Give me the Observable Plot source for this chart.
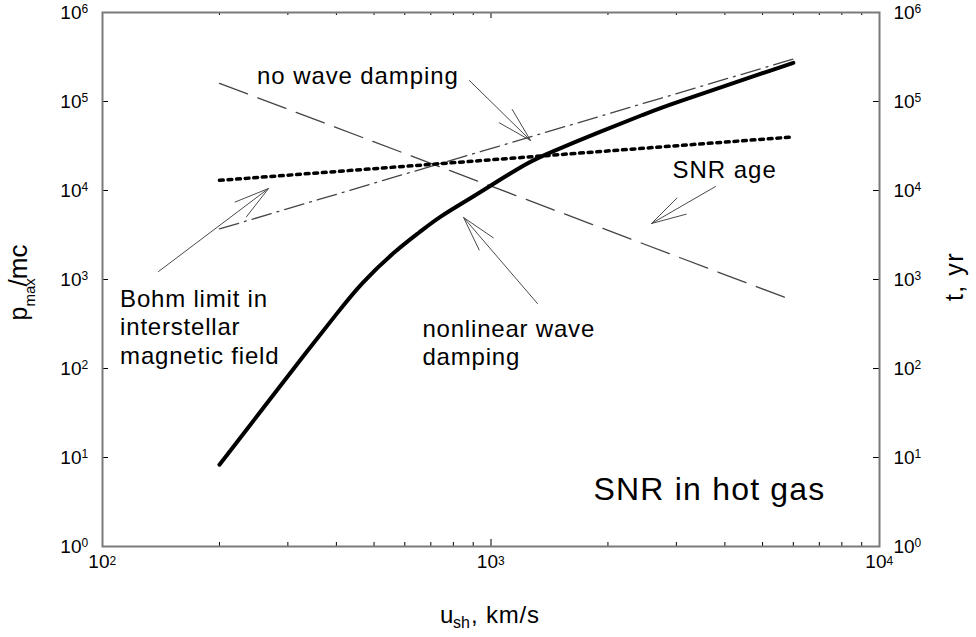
<!DOCTYPE html>
<html><head><meta charset="utf-8">
<script src="https://cdn.jsdelivr.net/npm/d3@7"></script>
<script src="https://cdn.jsdelivr.net/npm/@observablehq/plot@0.6"></script>
<style>body{margin:0;background:#fff} svg{display:block}</style>
</head><body><div id="chart"></div>
<script>
// ---- data ----
const uCurve = [200, 260, 337, 400, 462, 568, 658, 728, 870, 980, 1242, 1398, 1914, 2514, 2732, 6000];
const pCurve = [8.3, 36.5, 159, 408, 900, 2120, 3450, 4900, 7800, 10800, 20600, 26000, 46000, 73300, 85600, 272000];
const uEnds = [200, 6000];
const pBohm = [13000, 40000];          // dotted
const pNoDamping = [3700, 300000];     // dash-dot
const tAge = [160000, 580];            // dashed (right axis, yr)
const xMajor = [100, 1000, 10000];
const xMinor = [200, 300, 400, 500, 600, 700, 800, 900, 2000, 3000, 4000, 5000, 6000, 7000, 8000, 9000];
const yMajor = [1, 10, 100, 1000, 1e4, 1e5, 1e6];
const labels = [
  {x: 250, y: 2.67e5, text: "no wave damping", size: 24, ls: 0.9},
  {x: 2930, y: 23500, text: "SNR age", size: 24, ls: 1},
  {x: 111, y: 834, text: "Bohm limit in\ninterstellar\nmagnetic field", size: 24, ls: 0.8},
  {x: 666, y: 384, text: "nonlinear wave\ndamping", size: 24, ls: 0.8},
  {x: 1836, y: 6.73, text: "SNR in hot gas", size: 32, ls: 1.2}
];
const arrows = [
  {x1: 880, y1: 172000, x2: 1264, y2: 36500},
  {x1: 3784, y1: 11090, x2: 2589, y2: 4257},
  {x1: 139.4, y1: 1230, x2: 267.5, y2: 10530},
  {x1: 1317, y1: 537, x2: 850, y2: 4973}
];

// ---- layout ----
const W = 976, H = 637, mL = 102, mR = 97, mT = 12, mB = 91;
const plotW = W - mL - mR, plotH = H - mT - mB;
const pxX = plotW / 2, pxY = plotH / 6;   // pixels per decade
const axisColor = "#7a7a7a";
const font = "'Liberation Sans', Arial, Helvetica, sans-serif";

const curveData = uCurve.map((u, i) => ({u, p: pCurve[i]}));
const line2 = (vals) => uEnds.map((u, i) => ({u, v: vals[i]}));

const wing = 36;
function arrowMark(a) {
  const L = Math.hypot(Math.log10(a.x1 / a.x2) * pxX, Math.log10(a.y1 / a.y2) * pxY);
  const k = Math.max(1, (3 * wing) / L + 0.02);
  const x0 = a.x2 * Math.pow(a.x1 / a.x2, k), y0 = a.y2 * Math.pow(a.y1 / a.y2, k);
  return Plot.arrow([a], {
    x1: () => x0, y1: () => y0, x2: "x2", y2: "y2",
    insetStart: (k - 1) * L, headAngle: 30, headLength: wing * 1.5,
    stroke: "#4a4a4a", strokeWidth: 1
  });
}

const labelMarks = labels.map(l => Plot.text([l], {
  x: "x", y: "y", text: "text", textAnchor: "start", lineAnchor: "top",
  fontSize: l.size, lineHeight: 1.19, fill: "#000"
}));

const chart = Plot.plot({
  width: W, height: H,
  marginLeft: mL, marginRight: mR, marginTop: mT, marginBottom: mB,
  style: {fontFamily: font, background: "#fff", color: "#000"},
  x: {type: "log", domain: [100, 10000], axis: null},
  y: {type: "log", domain: [1, 1e6], axis: null},
  marks: [
    // ticks (inside)
    Plot.ruleX(xMinor, {x: d => d, insetTop: plotH - 4, stroke: "#000", strokeWidth: 1}),
    Plot.ruleX(xMinor, {x: d => d, insetBottom: plotH - 3, stroke: "#000", strokeWidth: 1}),
    Plot.ruleX(xMajor, {x: d => d, insetTop: plotH - 7, stroke: "#000", strokeWidth: 1}),
    Plot.ruleX(xMajor, {x: d => d, insetBottom: plotH - 6, stroke: "#000", strokeWidth: 1}),
    Plot.ruleY(yMajor, {y: d => d, insetRight: plotW - 6, stroke: "#000", strokeWidth: 1}),
    Plot.ruleY(yMajor, {y: d => d, insetLeft: plotW - 6, stroke: "#000", strokeWidth: 1}),
    Plot.frame({stroke: axisColor, strokeWidth: 2}),
    // tick labels
    Plot.text(xMajor, {x: d => d, frameAnchor: "bottom", text: () => "10", textAnchor: "end", dx: 7, dy: 21, fontSize: 19}),
    Plot.text(xMajor, {x: d => d, frameAnchor: "bottom", text: d => String(Math.round(Math.log10(d))), textAnchor: "start", dx: 7, dy: 18, fontSize: 12}),
    Plot.text(yMajor, {y: d => d, frameAnchor: "left", text: () => "10", textAnchor: "end", dx: -21, dy: 0, fontSize: 19}),
    Plot.text(yMajor, {y: d => d, frameAnchor: "left", text: d => String(Math.round(Math.log10(d))), textAnchor: "start", dx: -21, dy: -3, fontSize: 12}),
    Plot.text(yMajor, {y: d => d, frameAnchor: "right", text: () => "10", textAnchor: "start", dx: 14, dy: 0, fontSize: 19}),
    Plot.text(yMajor, {y: d => d, frameAnchor: "right", text: d => String(Math.round(Math.log10(d))), textAnchor: "start", dx: 35, dy: -3, fontSize: 12}),
    // axis titles
    Plot.text(["p"], {frameAnchor: "left", text: d => d, rotate: -90, textAnchor: "start", lineAnchor: "bottom", dx: -76, dy: 41, fontSize: 25}),
    Plot.text(["max"], {frameAnchor: "left", text: d => d, rotate: -90, textAnchor: "start", lineAnchor: "bottom", dx: -68, dy: 27, fontSize: 15}),
    Plot.text(["/mc"], {frameAnchor: "left", text: d => d, rotate: -90, textAnchor: "start", lineAnchor: "bottom", dx: -76, dy: 7, fontSize: 26}),
    Plot.text(["t, yr"], {frameAnchor: "right", text: d => d, rotate: -90, textAnchor: "middle", lineAnchor: "bottom", dx: 83, dy: -3, fontSize: 25}),
    Plot.text(["u"], {frameAnchor: "bottom", text: d => d, textAnchor: "start", lineAnchor: "bottom", dx: -51, dy: 76, fontSize: 24}),
    Plot.text(["sh"], {frameAnchor: "bottom", text: d => d, textAnchor: "start", lineAnchor: "bottom", dx: -38, dy: 81, fontSize: 16}),
    Plot.text([", km/s"], {frameAnchor: "bottom", text: d => d, textAnchor: "start", lineAnchor: "bottom", dx: -20, dy: 76, fontSize: 24}),
    // series
    Plot.line(line2(tAge), {x: "u", y: "v", stroke: "#444", strokeWidth: 1.3, strokeDasharray: "30,11"}),
    Plot.line(line2(pNoDamping), {x: "u", y: "v", stroke: "#444", strokeWidth: 1.3, strokeDasharray: "20,6,2,6"}),
    Plot.line(line2(pBohm), {x: "u", y: "v", stroke: "#000", strokeWidth: 3.5, strokeDasharray: "3.8,4.8"}),
    Plot.line(curveData, {x: "u", y: "p", stroke: "#000", strokeWidth: 4, curve: "basis"}),
    // annotations
    ...arrows.map(arrowMark),
    ...labelMarks
  ]
});
// letter spacing to match the slightly wider lettering of the reference
const spacing = new Map(labels.map(l => [l.text.replace(/\n/g, ""), l.ls]));
spacing.set("t, yr", 1.5); spacing.set(", km/s", 0.8);
d3.select(chart).selectAll("text").each(function () {
  const s = spacing.get(this.textContent);
  if (s !== undefined) this.style.letterSpacing = s + "px";
});
document.getElementById("chart").appendChild(chart);
</script>
</body></html>
